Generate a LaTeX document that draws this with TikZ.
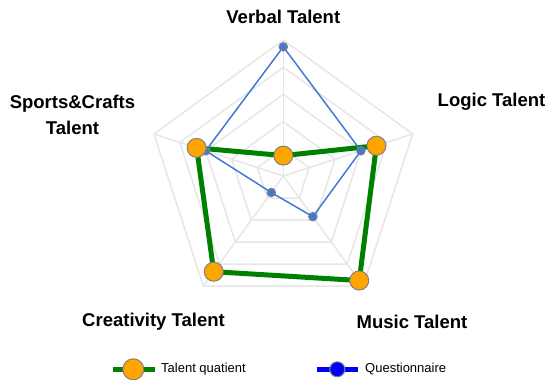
\documentclass[tikz,border=0pt]{standalone}
\usepackage{fontspec}
\setmainfont{Liberation Sans}
\usepackage{tikz}
\definecolor{qblue}{RGB}{64,122,214}
\definecolor{tgreen}{RGB}{0,128,0}
\definecolor{torange}{RGB}{255,165,0}
\definecolor{gridgray}{RGB}{230,230,230}
\tikzset{
  gridline/.style={draw=gridgray, line width=1.5pt},
  talent/.style={shape=circle, draw=gray, fill=torange, line width=1pt, minimum size=19pt, inner sep=0pt},
  quest/.style={shape=circle, draw=gray, fill=qblue, line width=1pt, minimum size=8.5pt, inner sep=0pt},
  axislabel/.style={font=\bfseries\fontsize{18.5}{26.3}\selectfont, align=center},
  legendtext/.style={font=\fontsize{13}{15}\selectfont, anchor=west, inner sep=0pt},
}

\begin{document}
\begin{tikzpicture}[x=1pt,y=1pt]
    \useasboundingbox (-283.3,-204) rectangle (268.7,176);

    % grid
    \foreach \r in {1,...,5}
        \draw[gridline] (90:\r*27.2) -- (18:\r*27.2) -- (-54:\r*27.2) -- (-126:\r*27.2) -- (162:\r*27.2) -- cycle;
    \foreach \a in {90,18,-54,-126,162}
        \draw[gridline] (0,0) -- (\a:136);

    \node[axislabel] (verbal) at (0,159) {Verbal Talent};
    \node[axislabel] (logic) at (208.2,74.3) {Logic Talent};
    \node[axislabel] (music) at (128.7,-145.7) {Music Talent};
    \node[axislabel] (creativity) at (-129.8,-145.7) {Creativity Talent};
    \node[axislabel] (sports) at (-210.8,61.1) {Sports\&Crafts\\Talent};

    \coordinate (TV) at (90:20.4);
    \coordinate (TL) at (18:97.9);
    \coordinate (TM) at (-54:129.2);
    \coordinate (TC) at (-126:118.3);
    \coordinate (TS) at (162:91.1);
    \coordinate (QV) at (90:129.2);
    \coordinate (QL) at (18:81.6);
    \coordinate (QM) at (-54:50.3);
    \coordinate (QC) at (-126:20.4);
    \coordinate (QS) at (162:81.6);

    \draw[tgreen, line width=5pt, line join=round] (TV) -- (TL) -- (TM) -- (TC) -- (TS) -- cycle;
    \draw[qblue, line width=1.5pt, line join=round] (QV) -- (QL) -- (QM) -- (QC) -- (QS) -- cycle;

    \node[quest] (qv) at (QV) {};
    \node[quest] (ql) at (QL) {};
    \node[quest] (qm) at (QM) {};
    \node[quest] (qc) at (QC) {};
    \node[quest] (qs) at (QS) {};
    \node[talent] (tv) at (TV) {};
    \node[talent] (tl) at (TL) {};
    \node[talent] (tm) at (TM) {};
    \node[talent] (tc) at (TC) {};
    \node[talent] (ts) at (TS) {};

    % legend
    \coordinate (lgA) at (-170.6,-193.3);
    \coordinate (lgB) at (-128.3,-193.3);
    \draw[tgreen, line width=5pt] (lgA) -- (lgB);
    \node[talent, minimum size=21pt] (lgt) at (-150,-193.3) {};
    \node[legendtext] (lgtext) at (-122.3,-193.3) {Talent quatient};
    \coordinate (lqA) at (33.4,-193.3);
    \coordinate (lqB) at (75,-193.3);
    \draw[blue, line width=5pt] (lqA) -- (lqB);
    \node[quest, fill=blue, minimum size=15pt] (lgq) at (54,-193.3) {};
    \node[legendtext] (lqtext) at (81.7,-193.3) {Questionnaire};

\end{tikzpicture}
\end{document}
